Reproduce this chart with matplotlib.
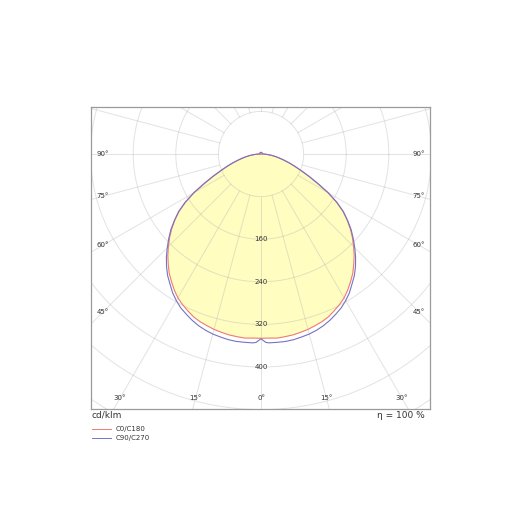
import numpy as np
import matplotlib
matplotlib.use("Agg")
import matplotlib.pyplot as plt
from matplotlib.lines import Line2D

# ---- data (cd/klm) ----
angles = [0, 1.5, 2.5, 5, 7.5, 10, 12.5, 15, 17.5, 20, 22.5, 25, 27.5, 30, 32.5, 35, 37.5,
          40, 42.5, 45, 47.5, 50, 52.5, 55, 57.5, 60, 62.5, 65, 67.5, 70, 72.5, 75, 77.5,
          80, 82.5, 85, 87.5, 90, 120, 150, 180]
c0_c180 = [346, 346, 346, 347, 346, 345, 343, 341, 338, 335, 331, 325, 319, 312, 303, 293, 283,
           271, 259, 246, 233, 219, 204, 188, 168, 145, 120, 99, 81, 67, 55, 44, 35,
           27, 20, 13, 7, 2, 0, 0, 0]
c90_c270 = [347, 354, 355, 355, 355, 354, 352, 350, 347, 343, 338, 332, 326, 318, 309, 298, 288,
            276, 263, 249, 235, 221, 205, 189, 169, 146, 121, 100, 82, 68, 56, 45, 36,
            28, 21, 14, 8, 3, 3, 3, 3]
series_names = ["C0/C180", "C90/C270"]
series_colors = ["#f07a72", "#7474c4"]
ring_values = [80, 160, 240, 320, 400, 480, 560, 640]
ring_labels = [160, 240, 320, 400]
angle_labels = [0, 15, 30, 45, 60, 75, 90]
unit_text = "cd/klm"
eta_text = "η = 100 %"

W = H = 525
fig = plt.figure(figsize=(W / 100, H / 100), dpi=100)

# box in pixels
bx0, bx1, by0, by1 = 91, 430, 107, 409
cx, cy = 261, 154
scale = 42.6 / 80.0  # px per cd

ax = fig.add_axes([bx0 / W, 1 - by1 / H, (bx1 - bx0) / W, (by1 - by0) / H])
xl = (-(cx - bx0) / scale, (bx1 - cx) / scale)
yl = (-(by1 - cy) / scale, (cy - by0) / scale)
ax.set_xlim(*xl)
ax.set_ylim(*yl)
ax.set_xticks([])
ax.set_yticks([])
for s in ax.spines.values():
    s.set_color("#9a9a9a")
    s.set_linewidth(0.9)


def curve(vals):
    a = np.radians(np.array(angles, dtype=float))
    r = np.array(vals, dtype=float)
    th = np.concatenate([-a[::-1], a[1:]])
    rr = np.concatenate([r[::-1], r[1:]])
    return rr * np.sin(th), -rr * np.cos(th)


# fill inside C0/C180
x0, y0 = curve(c0_c180)
ax.fill(x0, y0, color="#fffdbf", zorder=1, lw=0)

# grid
gcol = "#b8b8b8"
t = np.linspace(0, 2 * np.pi, 400)
for rv in ring_values:
    ax.plot(rv * np.cos(t), rv * np.sin(t), color=gcol, alpha=0.4, lw=0.7, zorder=2)
for d in range(0, 360, 15):
    a = np.radians(d)
    ax.plot([80 * np.sin(a), 900 * np.sin(a)], [-80 * np.cos(a), -900 * np.cos(a)],
            color=gcol, alpha=0.4, lw=0.7, zorder=2)

# curves
for vals, col in zip([c0_c180, c90_c270], series_colors):
    xs, ys = curve(vals)
    ax.plot(xs, ys, color=col, lw=0.8, zorder=3)

# radial labels
for rv in ring_labels:
    ax.text(0, -rv, str(rv), ha="center", va="center", fontsize=5, color="#333333", zorder=4)

# angle labels at inset rectangle
inset = 11 / scale
xin = min(-xl[0], xl[1]) - inset
ybot = -yl[0] - inset
for d in angle_labels:
    a = np.radians(d)
    sx, sy = np.sin(a), np.cos(a)
    tt = []
    if sx > 1e-9:
        tt.append(xin / sx)
    if sy > 1e-9:
        tt.append(ybot / sy)
    tv = min(tt)
    for sgn in ([1] if d == 0 else [-1, 1]):
        ax.text(sgn * tv * sx, -tv * sy, f"{d}°", ha="center", va="center",
                fontsize=5, color="#333333", zorder=4)


def fx(x):
    return x / W


def fy(y):
    return 1 - y / H


fig.text(fx(92), fy(415), unit_text, ha="left", va="center", fontsize=6.5, color="#333333")
fig.text(fx(425), fy(415), eta_text, ha="right", va="center", fontsize=6.5, color="#333333")

for i, (nm, col) in enumerate(zip(series_names, series_colors)):
    yy = 428.5 + i * 9.3
    fig.add_artist(Line2D([fx(92), fx(111)], [fy(yy), fy(yy)], color=col, lw=0.7))
    fig.text(fx(116), fy(yy), nm, ha="left", va="center", fontsize=5, color="#333333")

fig.savefig("out.png", dpi=100, facecolor="white")
